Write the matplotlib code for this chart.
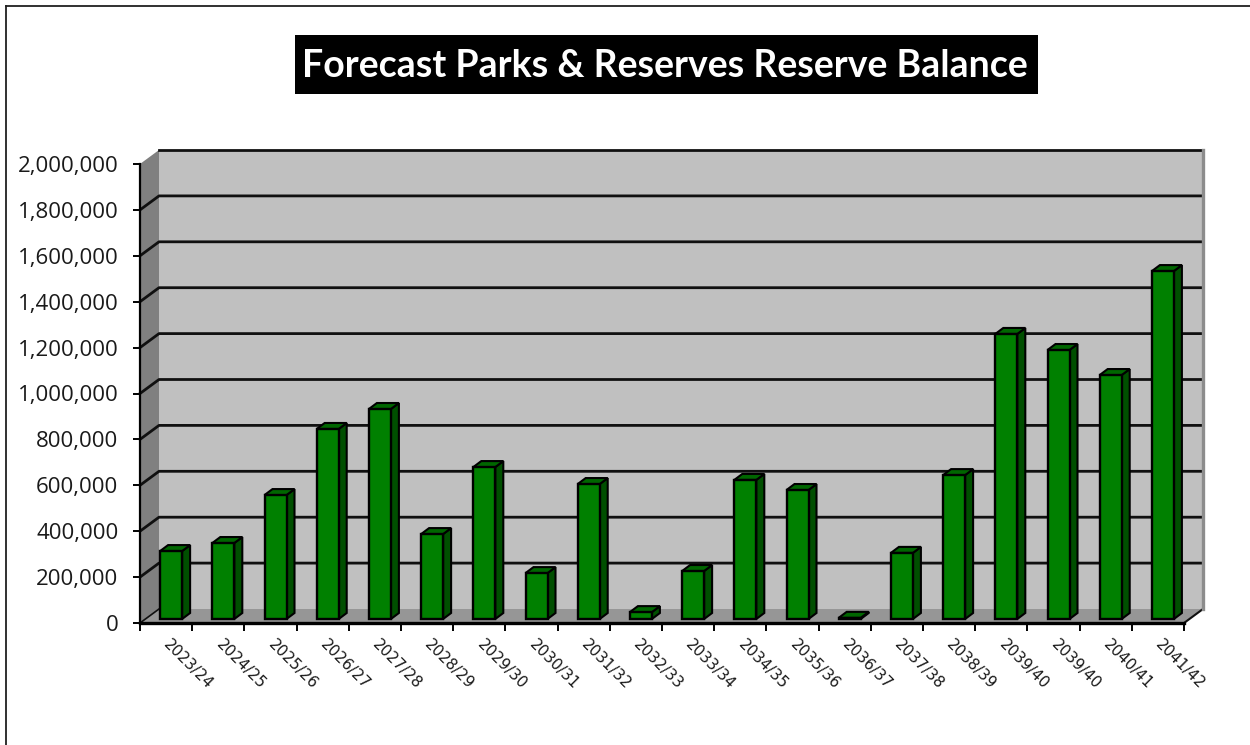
import matplotlib
matplotlib.use('Agg')
import matplotlib.pyplot as plt
from matplotlib.lines import Line2D
from matplotlib.ticker import FuncFormatter

# chart data
years = ['2023/24', '2024/25', '2025/26', '2026/27', '2027/28', '2028/29', '2029/30',
         '2030/31', '2031/32', '2032/33', '2033/34', '2034/35', '2035/36', '2036/37',
         '2037/38', '2038/39', '2039/40', '2039/40', '2040/41', '2041/42']
balance = [296000, 331000, 540000, 828000, 915000, 370000, 662000, 200000, 588000, 30000,
           209000, 606000, 562000, 5000, 288000, 627000, 1242000, 1172000, 1063000, 1516000]
y_ticks = list(range(0, 2000001, 200000))

W, H = 1250, 745
fig = plt.figure(figsize=(W / 100, H / 100), dpi=100, facecolor='white')

# front plane of the fake 3d box, in pixels
left, right, top, bottom = 140, 1184, 164, 623
ax = fig.add_axes([left / W, 1 - bottom / H, (right - left) / W, (bottom - top) / H])
ax.set_xlim(0, len(years))
ax.set_ylim(0, 2000000)
ax.patch.set_visible(False)

# pixel -> data sizes
px_x = len(years) / (right - left)
px_y = 2000000 / (bottom - top)
depth_x, depth_y = 19 * px_x, 14 * px_y

# walls
x_end = len(years)
ax.fill([0, depth_x, depth_x, 0], [0, depth_y, 2000000 + depth_y, 2000000],
        color='#808080', lw=0, clip_on=False, zorder=1)
ax.fill([depth_x, x_end + depth_x, x_end + depth_x, depth_x],
        [depth_y, depth_y, 2000000 + depth_y, 2000000 + depth_y],
        color='#c0c0c0', lw=0, clip_on=False, zorder=1)
ax.fill([0, x_end, x_end + depth_x, depth_x], [0, 0, depth_y, depth_y],
        color='#969696', lw=0, clip_on=False, zorder=1)
ax.plot([x_end + depth_x, x_end + depth_x], [depth_y, 2000000 + depth_y],
        color='#8c8c8c', lw=2.4, clip_on=False, zorder=2.5)

# gridlines run along left wall and back wall, the top one has no diagonal
for v in y_ticks[1:-1]:
    ax.plot([0, depth_x, x_end + depth_x], [v, v + depth_y, v + depth_y],
            color='#101010', lw=2.0, clip_on=False, zorder=2)
ax.plot([depth_x, x_end + depth_x], [y_ticks[-1] + depth_y] * 2,
        color='#101010', lw=2.0, clip_on=False, zorder=2)
ax.plot([x_end, x_end + depth_x], [0, depth_y], color='#101010', lw=1.5, clip_on=False, zorder=2)
ax.plot([0, depth_x], [0, depth_y], color='#101010', lw=1.2, clip_on=False, zorder=2)

# bars with side and top faces
bar_w = 22 * px_x
shift_x, shift_y = 5 * px_x, 4 * px_y
side_x, side_y = 8 * px_x, 6 * px_y
for i, val in enumerate(balance):
    x0 = i + 0.5 - bar_w / 2 + shift_x
    x1 = x0 + bar_w
    y0 = shift_y
    y1 = y0 + val
    ax.fill([x1, x1 + side_x, x1 + side_x, x1], [y0, y0 + side_y, y1 + side_y, y1],
            facecolor='#004f00', edgecolor='black', lw=1.5, clip_on=False, zorder=3)
    ax.fill([x0, x1, x1 + side_x, x0 + side_x], [y1, y1, y1 + side_y, y1 + side_y],
            facecolor='#006600', edgecolor='black', lw=1.5, clip_on=False, zorder=3)
    ax.bar(x0, val, width=bar_w, bottom=y0, align='edge', color='#008000',
           edgecolor='black', lw=1.7, clip_on=False, zorder=4)

# axes
for s in ['top', 'right']:
    ax.spines[s].set_visible(False)
ax.spines['left'].set_linewidth(1.6)
ax.spines['bottom'].set_linewidth(2.4)
ax.spines['left'].set_zorder(5)
ax.spines['bottom'].set_zorder(5)

ax.set_yticks(y_ticks)
ax.yaxis.set_major_formatter(FuncFormatter(lambda v, p: f'{int(v):,}'))
ax.tick_params(axis='y', length=5, width=1.4, pad=10.5, labelsize=16, labelcolor='#1a1a1a')
for lab in ax.get_yticklabels():
    lab.set_fontfamily('Open Sans')

ax.set_xticks(range(len(years) + 1))
ax.set_xticklabels([])
ax.set_xticks([i + 0.5 for i in range(len(years))], minor=True)
ax.set_xticklabels(years, minor=True, rotation=-45, rotation_mode='anchor',
                   ha='left', va='center', fontsize=11, color='#1a1a1a', family='DejaVu Sans')
ax.tick_params(axis='x', which='major', length=6, width=1.4)
ax.tick_params(axis='x', which='minor', length=0, pad=14)

# title in black box
fig.patches.append(plt.Rectangle((295 / W, 1 - 94 / H), 743 / W, 59 / H, transform=fig.transFigure,
                                 facecolor='black', edgecolor='none'))
fig.text(665 / W, 1 - 66 / H, 'Forecast Parks & Reserves Reserve Balance', color='white',
         fontsize=27, fontweight='bold', family='Lato', ha='center', va='center')

# outer chart frame (top and left only are in view)
fig.add_artist(Line2D([6 / W, 6 / W], [0, 1 - 5.5 / H], color='#202020', lw=1.3))
fig.add_artist(Line2D([6 / W, 1], [1 - 5.5 / H, 1 - 5.5 / H], color='#202020', lw=1.3))

fig.savefig('out.png', dpi=100)
